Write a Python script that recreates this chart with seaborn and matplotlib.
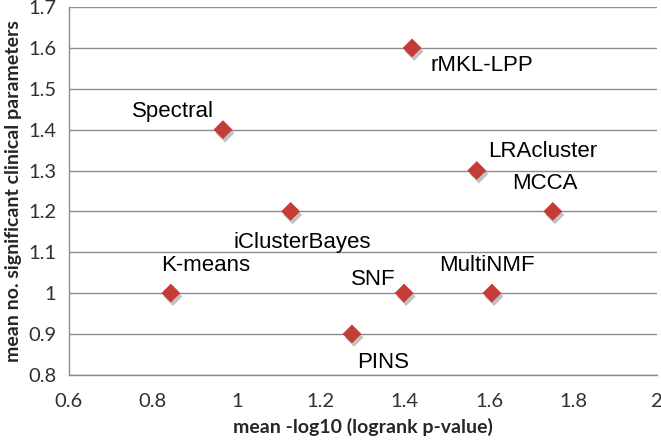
import pandas as pd
import matplotlib.pyplot as plt
import matplotlib.patheffects as pe
import seaborn as sns

# ─── Datos ──────────────────────────────────────────────────────────────────
methods = ["Spectral", "iClusterBayes", "rMKL-LPP", "LRAcluster", "MCCA",
           "K-means", "SNF", "MultiNMF", "PINS"]
logrank = [0.967, 1.128, 1.417, 1.571, 1.752, 0.843, 1.398, 1.607, 1.274]
clinical = [1.4, 1.2, 1.6, 1.3, 1.2, 1.0, 1.0, 1.0, 0.9]
# desplazamiento de cada etiqueta (pixeles)
label_dx = [-50, 12, 70, 66, -8, 35, -31, -5, 31]
label_dy = [18, -31, -18, 19, 28, 28, 14, 28, -29]

x_ticks = [0.6, 0.8, 1.0, 1.2, 1.4, 1.6, 1.8, 2.0]
x_tick_labels = ["0.6", "0.8", "1", "1.2", "1.4", "1.6", "1.8", "2"]
y_ticks = [0.8, 0.9, 1.0, 1.1, 1.2, 1.3, 1.4, 1.5, 1.6, 1.7]
y_tick_labels = ["0.8", "0.9", "1", "1.1", "1.2", "1.3", "1.4", "1.5", "1.6", "1.7"]

df = pd.DataFrame({"method": methods, "logrank": logrank, "clinical": clinical})

# ─── Estilo ─────────────────────────────────────────────────────────────────
sns.set_style("white")
GRID = "#8c8c8c"
RED = "#C43B37"

fig, ax = plt.subplots(figsize=(6.61, 4.42), dpi=100)
fig.subplots_adjust(left=0.104, right=0.994, top=0.984, bottom=0.152)

sns.scatterplot(data=df, x="logrank", y="clinical", marker="D", s=92,
                color=RED, edgecolor="none", ax=ax, zorder=3)
ax.collections[0].set_path_effects([
    pe.SimplePatchShadow(offset=(1.5, -2.5), shadow_rgbFace="#666666", alpha=0.4),
    pe.Normal()])

for m, x, y, dx, dy in zip(methods, logrank, clinical, label_dx, label_dy):
    ax.annotate(m, xy=(x, y), xytext=(dx, dy), textcoords="offset pixels",
                ha="center", va="center", fontsize=16,
                family="Liberation Sans", color="black")

ax.set_xlim(0.6, 2.0)
ax.set_ylim(0.8, 1.7)
ax.set_xticks(x_ticks)
ax.set_xticklabels(x_tick_labels)
ax.set_yticks(y_ticks)
ax.set_yticklabels(y_tick_labels)
ax.yaxis.grid(True, color=GRID, linewidth=1)
ax.set_axisbelow(True)

for side in ["top", "right"]:
    ax.spines[side].set_visible(False)
for side in ["left", "bottom"]:
    ax.spines[side].set_color(GRID)
    ax.spines[side].set_linewidth(1)

ax.tick_params(axis="both", direction="out", length=5, width=1, color=GRID,
               labelsize=14.5, labelcolor="#303030", pad=4)
ax.tick_params(axis="x", pad=8)
for lab in ax.get_xticklabels() + ax.get_yticklabels():
    lab.set_family("Lato")

ax.set_xlabel("mean -log10 (logrank p-value)", fontsize=14, fontweight="bold",
              family="Lato", labelpad=6)
ax.set_ylabel("mean no. significant clinical parameters", fontsize=14,
              fontweight="bold", family="Lato", labelpad=4)

fig.savefig("out.png", dpi=100)
